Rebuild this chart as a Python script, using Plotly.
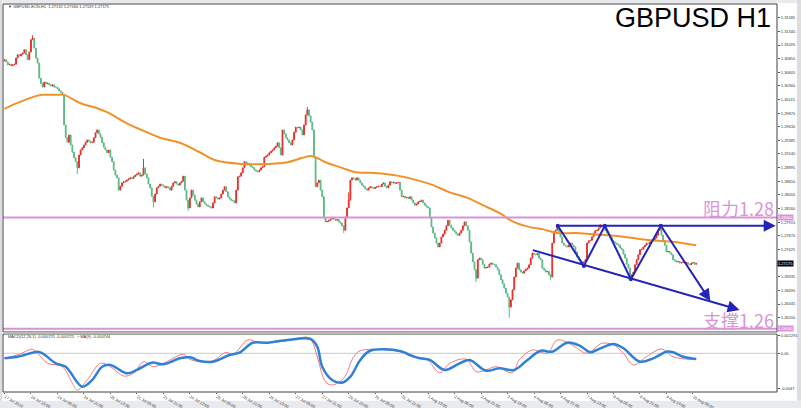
import plotly.graph_objects as go

# ---------------- data ----------------
close = [
1.3083,1.3079,1.3074,1.3075,1.3072,1.3074,1.3075,1.3086,1.3092,1.3090,
1.3093,1.3095,1.3101,1.3092,1.3083,1.3097,1.3119,1.3122,1.3104,1.3086,
1.3077,1.3050,1.3040,1.3034,1.3043,1.3040,1.3041,1.3038,1.3036,1.3038,
1.3034,1.3034,1.3031,1.3027,1.3025,1.3020,1.2966,1.2943,1.2935,1.2948,
1.2930,1.2917,1.2907,1.2900,1.2889,1.2912,1.2921,1.2925,1.2930,1.2935,
1.2939,1.2937,1.2934,1.2935,1.2943,1.2952,1.2957,1.2950,1.2944,1.2934,
1.2926,1.2921,1.2916,1.2921,1.2908,1.2900,1.2885,1.2876,1.2871,1.2849,
1.2856,1.2862,1.2864,1.2865,1.2867,1.2869,1.2871,1.2870,1.2873,1.2876,
1.2878,1.2880,1.2874,1.2876,1.2889,1.2878,1.2871,1.2860,1.2853,1.2838,
1.2828,1.2842,1.2853,1.2856,1.2860,1.2858,1.2856,1.2853,1.2855,1.2853,
1.2849,1.2856,1.2862,1.2864,1.2860,1.2858,1.2862,1.2865,1.2874,1.2849,
1.2831,1.2817,1.2835,1.2849,1.2840,1.2831,1.2824,1.2819,1.2828,1.2835,
1.2828,1.2824,1.2822,1.2820,1.2819,1.2817,1.2826,1.2837,1.2835,1.2833,
1.2835,1.2842,1.2849,1.2855,1.2846,1.2837,1.2833,1.2831,1.2830,1.2826,
1.2849,1.2873,1.2874,1.2880,1.2889,1.2900,1.2898,1.2897,1.2894,1.2891,
1.2889,1.2885,1.2883,1.2882,1.2885,1.2889,1.2891,1.2908,1.2910,1.2912,
1.2916,1.2919,1.2921,1.2925,1.2928,1.2934,1.2925,1.2912,1.2957,1.2950,
1.2943,1.2939,1.2934,1.2930,1.2939,1.2953,1.2962,1.2961,1.2962,1.2957,
1.2948,1.2966,1.2984,1.2993,1.2982,1.2971,1.2957,1.2908,1.2855,1.2862,
1.2867,1.2849,1.2837,1.2799,1.2792,1.2793,1.2795,1.2797,1.2799,1.2797,
1.2795,1.2796,1.2792,1.2790,1.2785,1.2777,1.2801,1.2817,1.2831,1.2867,
1.2871,1.2870,1.2867,1.2871,1.2867,1.2862,1.2858,1.2855,1.2851,1.2849,
1.2853,1.2855,1.2853,1.2852,1.2854,1.2855,1.2856,1.2855,1.2860,1.2862,
1.2856,1.2853,1.2858,1.2864,1.2862,1.2863,1.2861,1.2862,1.2863,1.2849,
1.2837,1.2838,1.2835,1.2836,1.2834,1.2837,1.2831,1.2826,1.2822,1.2824,
1.2828,1.2829,1.2831,1.2826,1.2822,1.2819,1.2817,1.2799,1.2783,1.2772,
1.2763,1.2754,1.2747,1.2754,1.2765,1.2770,1.2777,1.2785,1.2795,1.2786,
1.2781,1.2777,1.2774,1.2770,1.2768,1.2772,1.2777,1.2785,1.2792,1.2785,
1.2777,1.2756,1.2736,1.2720,1.2706,1.2691,1.2724,1.2727,1.2724,1.2716,
1.2709,1.2710,1.2711,1.2716,1.2718,1.2716,1.2715,1.2711,1.2706,1.2697,
1.2688,1.2681,1.2673,1.2664,1.2657,1.2639,1.2652,1.2670,1.2693,1.2709,
1.2718,1.2706,1.2702,1.2700,1.2704,1.2707,1.2709,1.2715,1.2727,1.2736,
1.2734,1.2733,1.2735,1.2727,1.2724,1.2709,1.2706,1.2702,1.2703,1.2697,
1.2693,1.2754,1.2774,1.2777,1.2786,1.2774,1.2765,1.2754,1.2750,1.2749,
1.2747,1.2750,1.2754,1.2750,1.2747,1.2738,1.2729,1.2724,1.2718,1.2719,
1.2720,1.2724,1.2754,1.2758,1.2759,1.2765,1.2772,1.2776,1.2777,1.2781,
1.2785,1.2783,1.2781,1.2776,1.2772,1.2768,1.2765,1.2759,1.2756,1.2754,
1.2752,1.2750,1.2745,1.2742,1.2734,1.2727,1.2716,1.2709,1.2693,1.2697,
1.2702,1.2715,1.2724,1.2733,1.2742,1.2743,1.2747,1.2750,1.2754,1.2753,
1.2756,1.2758,1.2759,1.2763,1.2768,1.2777,1.2781,1.2768,1.2759,1.2750,
1.2738,1.2739,1.2736,1.2733,1.2724,1.2722,1.2720,1.2721,1.2718,1.2719,
1.2720,1.2718,1.2719,1.2716,1.2715,1.2718,1.2719,1.2716,1.27175,
]
first_open = 1.3081
wick_high = {17: 1.3127, 84: 1.2905, 183: 1.2998, 208: 1.2845, 334: 1.2788,
             360: 1.2788, 396: 1.2787}
wick_low = {44: 1.2878, 90: 1.2818, 111: 1.2812, 205: 1.2772, 285: 1.2684,
            305: 1.2620, 330: 1.2688, 378: 1.2688}

ma_bar = [0, 5, 17, 23, 32, 36, 46, 56, 62, 74, 86, 94, 106, 118, 127, 143, 159,
          171, 180, 186, 194, 204, 212, 221, 235, 249, 259, 269, 279, 289, 299,
          307, 317, 325, 334, 345, 355, 365, 375, 385, 395, 405, 418]
ma_val = [1.2995, 1.3002, 1.3016, 1.3020, 1.3020, 1.3020, 1.3005, 1.2996, 1.2989,
          1.2969, 1.2953, 1.2943, 1.2934, 1.2917, 1.2903, 1.2896, 1.2896, 1.2899,
          1.2907, 1.2910, 1.2899, 1.2889, 1.2881, 1.2880, 1.2876, 1.2867, 1.2858,
          1.2845, 1.2836, 1.2822, 1.2808, 1.2793, 1.2783, 1.2779, 1.2772, 1.2772,
          1.2770, 1.2768, 1.2765, 1.2761, 1.2758, 1.2756, 1.2750]

sig_bar = [0, 8, 20, 23, 31, 37, 47, 53, 59, 64, 74, 80, 89, 96, 106, 112, 118,
           126, 136, 142, 150, 159, 171, 185, 189, 192, 198, 204, 209, 215, 221,
           239, 245, 251, 257, 266, 275, 281, 291, 299, 308, 316, 324, 331, 340,
           348, 354, 360, 368, 374, 384, 392, 400, 404, 410, 418]
sig_val = [-0.00066, -0.00045, 0.00021, 0.0, -0.00132, -0.00177, -0.00441,
           -0.00352, -0.00177, -0.00154, -0.00264, -0.0022, -0.00124, -0.00145,
           -0.00066, -0.00053, -0.00102, -0.00111, -0.00022, 0.00008, 0.0014,
           0.0014, 0.00176, 0.00189, 0.00087, -0.00177, -0.00352, -0.00388,
           -0.00309, -0.00088, 0.00034, 0.0003, -0.00022, -0.00066, -0.00088,
           -0.0022, -0.00132, -0.00088, -0.0023, -0.00198, -0.0022, -0.00088,
           0.00034, 0.00021, 0.0014, 0.00096, 0.00013, 0.00066, 0.00123, 0.00066,
           -0.00111, -0.00066, 0.00021, 0.00013, -0.00045, -0.00074]

macd_bar = [0, 9, 17, 21, 26, 35, 41, 44, 50, 58, 64, 72, 78, 84, 90, 98, 108,
            112, 118, 126, 134, 138, 147, 154, 171, 183, 186, 189, 194, 198, 205,
            211, 215, 239, 247, 255, 263, 269, 279, 285, 291, 297, 307, 311, 319,
            328, 334, 343, 352, 361, 368, 374, 380, 388, 397, 404, 414, 418]
macd_val = [-0.00066, -0.00013, 0.00053, -0.00022, -0.00132, -0.00177, -0.00396,
            -0.00484, -0.00352, -0.00132, -0.00177, -0.003, -0.00264, -0.00111,
            -0.00177, -0.00111, -0.00013, -0.00079, -0.00111, -0.00098, 0.00013,
            -0.00022, 0.00176, 0.0014, 0.00166, 0.00211, 0.00153, -0.00045,
            -0.00375, -0.00418, -0.0033, -0.00045, 0.00034, 0.00021, -0.00053,
            -0.00079, -0.00256, -0.00132, -0.00079, -0.00243, -0.0022, -0.00177,
            -0.00256, -0.00088, 0.00044, 0.0, 0.00176, 0.0011, 0.0, 0.00132,
            0.0011, 0.0, -0.00154, -0.00045, 0.00057, -0.00045, -0.00079, -0.000725]

x_tick_bars = list(range(0, 417, 16))
x_tick_text = ["17 Jul 2023", "18 Jul 13:00", "19 Jul 05:00", "19 Jul 21:00",
               "20 Jul 13:00", "21 Jul 05:00", "21 Jul 21:00", "24 Jul 13:00",
               "25 Jul 05:00", "25 Jul 21:00", "26 Jul 13:00", "27 Jul 05:00",
               "27 Jul 21:00", "28 Jul 13:00", "31 Jul 05:00", "31 Jul 21:00",
               "1 Aug 13:00", "2 Aug 05:00", "2 Aug 21:00", "3 Aug 13:00",
               "4 Aug 05:00", "4 Aug 21:00", "7 Aug 13:00", "8 Aug 05:00",
               "8 Aug 21:00", "9 Aug 13:00", "10 Aug 05:00"]
y_ticks = [1.31585, 1.31340, 1.31095, 1.30850, 1.30605, 1.30360, 1.30115,
           1.29870, 1.29630, 1.29385, 1.29140, 1.28895, 1.28650, 1.28405,
           1.28160, 1.27915, 1.27670, 1.27425, 1.26935, 1.26690, 1.26445, 1.26200]
macd_ticks = [0.002291, 0.0, -0.0047]
macd_tick_text = ["0.002291", "0.00", "-0.0047"]

resist_level = 1.28
support_level = 1.26
last_price = 1.27175

# hand-drawn analysis lines (bar index, price)
zig_bar = [334.3, 350.1, 362.8, 378.5, 396.6]
zig_price = [1.2785, 1.2713, 1.2785, 1.2689, 1.2785]
zig_end = (426.5, 1.2650)
top_line = [(334.3, 1.2785), (466.0, 1.2785)]
low_line = [(318.4, 1.2742), (444.2, 1.2634)]

# ---------------- figure ----------------
bars = list(range(len(close)))
opens = [first_open] + close[:-1]
highs = [max(o, c) for o, c in zip(opens, close)]
lows = [min(o, c) for o, c in zip(opens, close)]
for k, v in wick_high.items():
    highs[k] = max(highs[k], v)
for k, v in wick_low.items():
    lows[k] = min(lows[k], v)

RED = "#e5302b"
GREEN = "#5cb985"
PINK = "#d994d9"
BLUE = "#2424b8"
SMALL = dict(family="Liberation Sans, Arial", size=4.0, color="#333333")

fig = go.Figure()
fig.add_trace(go.Candlestick(
    x=bars, open=opens, high=highs, low=lows, close=close,
    increasing=dict(line=dict(color=RED, width=1), fillcolor=RED),
    decreasing=dict(line=dict(color=GREEN, width=1), fillcolor=GREEN),
    xaxis="x", yaxis="y", showlegend=False, hoverinfo="skip"))
fig.add_trace(go.Scatter(x=ma_bar, y=ma_val, mode="lines",
                         line=dict(color="#f0922a", width=2, shape="spline"),
                         xaxis="x", yaxis="y", showlegend=False))
fig.add_trace(go.Scatter(x=zig_bar, y=zig_price, mode="lines+markers",
                         line=dict(color=BLUE, width=2),
                         marker=dict(size=4, color=BLUE),
                         xaxis="x", yaxis="y", showlegend=False))
# MACD pane
fig.add_trace(go.Scatter(x=[-1, 467], y=[0, 0], mode="lines",
                         line=dict(color="#c8c8c8", width=1),
                         xaxis="x", yaxis="y2", showlegend=False))
fig.add_trace(go.Scatter(x=macd_bar, y=macd_val, mode="lines",
                         line=dict(color="#f07a7a", width=1, shape="spline"),
                         xaxis="x", yaxis="y2", showlegend=False))
fig.add_trace(go.Scatter(x=sig_bar, y=sig_val, mode="lines",
                         line=dict(color="#2f80d8", width=2.5, shape="spline"),
                         xaxis="x", yaxis="y2", showlegend=False))

MAIN_DOM = [0.1546, 1.0]
MACD_DOM = [0.0, 0.1495]

shapes = [
    dict(type="line", xref="paper", yref="y", x0=0, x1=1, y0=resist_level,
         y1=resist_level, line=dict(color=PINK, width=2)),
    dict(type="line", xref="paper", yref="y", x0=0, x1=1, y0=support_level,
         y1=support_level, line=dict(color=PINK, width=2)),
    dict(type="rect", xref="paper", yref="paper", x0=0, x1=1, y0=MAIN_DOM[0],
         y1=MAIN_DOM[1], line=dict(color="#404040", width=1)),
    dict(type="rect", xref="paper", yref="paper", x0=0, x1=1, y0=MACD_DOM[0],
         y1=MACD_DOM[1], line=dict(color="#404040", width=1)),
    dict(type="rect", xref="paper", yref="paper", x0=0, x1=1.0, y0=MACD_DOM[1],
         y1=MAIN_DOM[0], line=dict(width=0), fillcolor="#b8b8b8"),
    # window chrome strips (below everything)
    dict(type="rect", xref="paper", yref="paper", x0=-0.01, x1=1.04, y0=-0.0225,
         y1=-0.06, line=dict(width=0), fillcolor="#e8eaee", layer="below"),
    dict(type="rect", xref="paper", yref="paper", x0=-0.01, x1=1.04, y0=1.0026,
         y1=1.02, line=dict(width=0), fillcolor="#e8eaee", layer="below"),
    dict(type="rect", xref="paper", yref="paper", x0=-0.01, x1=-0.0013, y0=-0.0225,
         y1=1.02, line=dict(width=0), fillcolor="#dcdde0", layer="below"),
    dict(type="rect", xref="paper", yref="paper", x0=1.0258, x1=1.04, y0=-0.0225,
         y1=1.02, line=dict(width=0), fillcolor="#dcdde0", layer="below"),
]

annotations = [
    dict(xref="paper", yref="paper", x=0.9948, y=0.9652, xanchor="right",
         yanchor="middle", text="GBPUSD H1", showarrow=False,
         font=dict(family="Liberation Sans, Arial", size=27, color="#000000")),
    dict(xref="paper", yref="paper", x=0.9987, y=0.4755, xanchor="right",
         yanchor="middle", text="阻力1.28", showarrow=False,
         font=dict(family="Noto Sans CJK SC", size=18, color=PINK)),
    dict(xref="paper", yref="paper", x=0.9987, y=0.1843, xanchor="right",
         yanchor="middle", text="支撑1.26", showarrow=False,
         font=dict(family="Noto Sans CJK SC", size=18, color=PINK)),
    dict(xref="paper", yref="paper", x=0.004, y=0.9928, xanchor="left",
         yanchor="middle", showarrow=False,
         text="▼ GBPUSD-ECN,H1  1.27132 1.27184 1.27119 1.27175", font=SMALL),
    dict(xref="paper", yref="paper", x=0.004, y=0.1425, xanchor="left",
         yanchor="middle", showarrow=False,
         text="MACD(12,26,1) -0.000725 -0.000725  ⇔MA(9) -0.000744", font=SMALL),
    dict(xref="paper", yref="y", x=1.0, y=resist_level, xanchor="left",
         yanchor="middle", text="1.28000", showarrow=False, bgcolor=PINK,
         font=dict(family="Liberation Sans, Arial", size=4.0, color="#ffffff"),
         borderpad=0),
    dict(xref="paper", yref="y", x=1.0, y=support_level, xanchor="left",
         yanchor="middle", text="1.26000", showarrow=False, bgcolor=PINK,
         font=dict(family="Liberation Sans, Arial", size=4.0, color="#ffffff"),
         borderpad=0),
    dict(xref="paper", yref="y", x=1.0, y=last_price, xanchor="left",
         yanchor="middle", text="1.27175", showarrow=False, bgcolor="#000000",
         font=dict(family="Liberation Sans, Arial", size=4.0, color="#ffffff"),
         borderpad=0),
]
for (x0, y0), (x1, y1) in [top_line, low_line,
                           ((zig_bar[-1], zig_price[-1]), zig_end)]:
    annotations.append(dict(xref="x", yref="y", axref="x", ayref="y",
                            x=x1, y=y1, ax=x0, ay=y0, text="", showarrow=True,
                            arrowhead=2, arrowsize=1.2, arrowwidth=2,
                            arrowcolor=BLUE, standoff=0))

fig.update_layout(
    width=801, height=408,
    margin=dict(l=3, r=24, t=4, b=16, autoexpand=False),
    paper_bgcolor="#ffffff", plot_bgcolor="#ffffff",
    showlegend=False,
    xaxis=dict(domain=[0, 1], anchor="y2", range=[-0.9, 466.8],
               tickvals=x_tick_bars, ticktext=x_tick_text,
               ticklabelposition="outside right", ticks="outside", ticklen=1,
               tickcolor="#555555", tickfont=SMALL, showgrid=False,
               zeroline=False, rangeslider=dict(visible=False), showline=False,
               automargin=False),
    yaxis=dict(domain=MAIN_DOM, anchor="x", side="right",
               range=[1.25943, 1.31831], tickvals=y_ticks,
               ticktext=["%.5f" % v for v in y_ticks], ticks="outside",
               ticklen=2, tickcolor="#555555", tickfont=SMALL,
               showgrid=False, zeroline=False, automargin=False),
    yaxis2=dict(domain=MACD_DOM, anchor="x", side="right",
                range=[-0.00511, 0.00255], tickvals=macd_ticks,
                ticktext=macd_tick_text, ticks="outside", ticklen=2,
                tickcolor="#555555", tickfont=SMALL, showgrid=False,
                zeroline=False, automargin=False),
    shapes=shapes,
    annotations=annotations,
)

fig.write_html("out.html",
               config={"displayModeBar": False},
               post_script="document.body.style.margin='0';"
                           "document.body.style.padding='0';")
